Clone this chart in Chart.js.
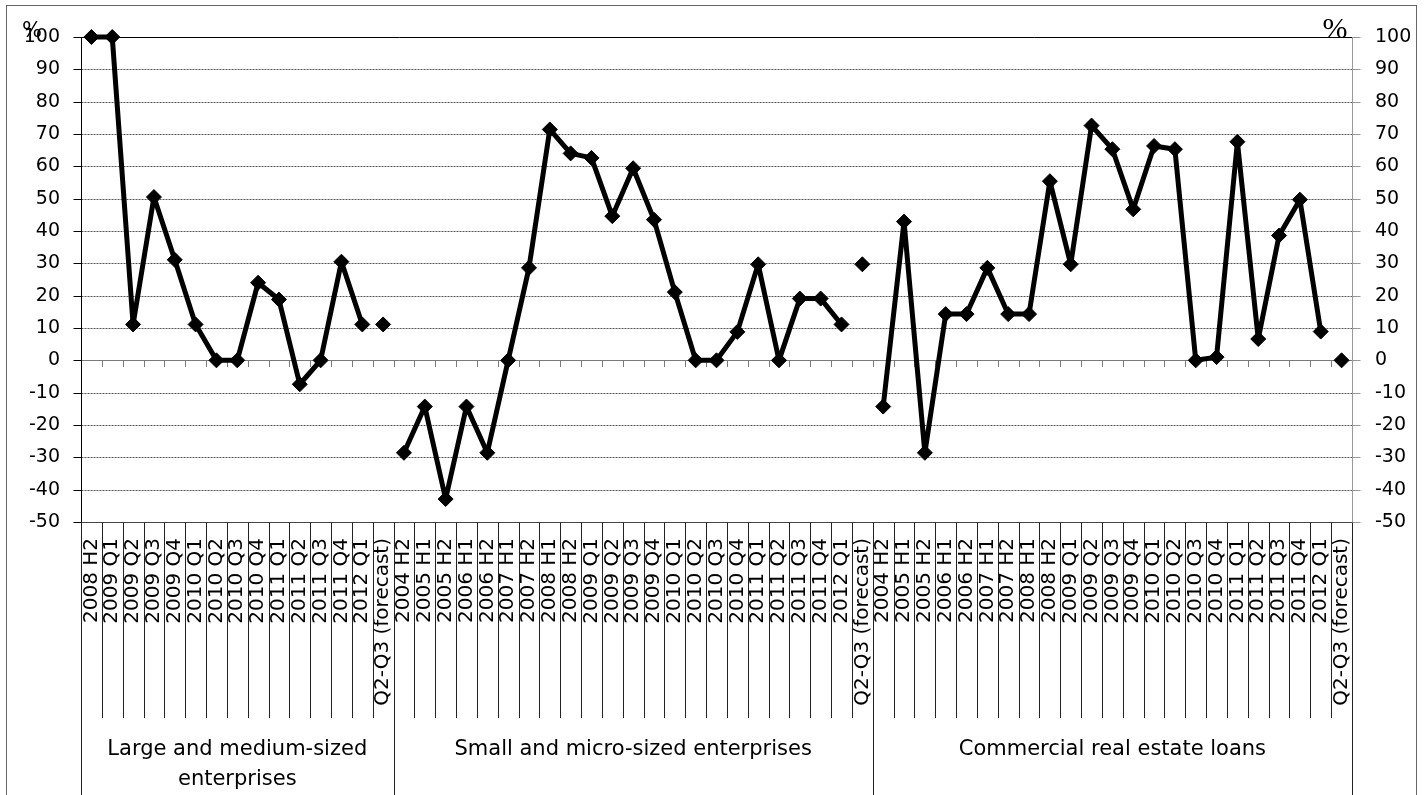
<!DOCTYPE html>
<html><head><meta charset="utf-8">
<script src="https://cdn.jsdelivr.net/npm/chart.js@4.4.1/dist/chart.umd.min.js"></script>
<style>html,body{margin:0;padding:0;background:#fff;}#wrap{position:relative;width:1427px;height:795px;}canvas{display:block;}</style>
</head><body><div id="wrap"><canvas id="c" width="1427" height="795"></canvas></div>
<script>
const groupNames = [['Large and medium-sized', 'enterprises'], ['Small and micro-sized enterprises'], ['Commercial real estate loans']];
const periodsLarge = ['2008 H2','2009 Q1','2009 Q2','2009 Q3','2009 Q4','2010 Q1','2010 Q2','2010 Q3','2010 Q4','2011 Q1','2011 Q2','2011 Q3','2011 Q4','2012 Q1','Q2-Q3 (forecast)'];
const periodsSmall = ['2004 H2','2005 H1','2005 H2','2006 H1','2006 H2','2007 H1','2007 H2','2008 H1','2008 H2','2009 Q1','2009 Q2','2009 Q3','2009 Q4','2010 Q1','2010 Q2','2010 Q3','2010 Q4','2011 Q1','2011 Q2','2011 Q3','2011 Q4','2012 Q1','Q2-Q3 (forecast)'];
const periodsCRE = ['2004 H2','2005 H1','2005 H2','2006 H1','2006 H2','2007 H1','2007 H2','2008 H1','2008 H2','2009 Q1','2009 Q2','2009 Q3','2009 Q4','2010 Q1','2010 Q2','2010 Q3','2010 Q4','2011 Q1','2011 Q2','2011 Q3','2011 Q4','2012 Q1','Q2-Q3 (forecast)'];
const valuesLarge = [100, 100, 11.1, 50.5, 31.1, 11.1, 0, 0, 24, 18.8, -7.4, 0, 30.5, 11.1];
const forecastLarge = 11.1;
const valuesSmall = [-28.6, -14.3, -42.9, -14.3, -28.6, 0, 28.6, 71.4, 64, 62.6, 44.6, 59.4, 43.5, 21.1, 0, 0, 8.8, 29.7, 0, 19.1, 19.1, 11.1];
const forecastSmall = 29.7;
const valuesCRE = [-14.3, 42.9, -28.6, 14.3, 14.3, 28.6, 14.3, 14.3, 55.4, 29.7, 72.6, 65.3, 46.7, 66.3, 65.3, 0, 1, 67.6, 6.6, 38.6, 49.7, 8.9];
const forecastCRE = 0;
const yMin = -50, yMax = 100, yStep = 10;

const labels = [...periodsLarge, ...periodsSmall, ...periodsCRE];
const actual = [...valuesLarge, null, ...valuesSmall, null, ...valuesCRE, null];
const forecast = [
  ...valuesLarge.map(() => null), forecastLarge,
  ...valuesSmall.map(() => null), forecastSmall,
  ...valuesCRE.map(() => null), forecastCRE
];
const groupSizes = [periodsLarge.length, periodsSmall.length, periodsCRE.length];

const FONT = 'DejaVu Sans';

const decor = {
  id: 'decor',
  beforeDraw(chart) {
    const ctx = chart.ctx;
    ctx.save();
    ctx.fillStyle = '#fff';
    ctx.fillRect(0, 0, chart.width, chart.height);
    ctx.strokeStyle = '#666';
    ctx.lineWidth = 1;
    ctx.strokeRect(6.5, 5.5, 1410, 800);
    ctx.restore();
  },
  beforeDatasetsDraw(chart) {
    const ctx = chart.ctx;
    const xs = chart.scales.x, ys = chart.scales.y;
    const ca = chart.chartArea;
    const L = Math.round(ca.left) + 0.5, R = Math.round(ca.right) + 0.5;
    const T = Math.round(ca.top), B = Math.round(ca.bottom) + 0.5;
    ctx.save();
    ctx.lineWidth = 1;
    for (let v = yMin; v <= yMax; v += yStep) {
      const y = Math.round(ys.getPixelForValue(v)) + 0.5;
      ctx.beginPath();
      if (v === yMax) { ctx.setLineDash([]); ctx.strokeStyle = '#000'; }
      else if (v === 0) { ctx.setLineDash([]); ctx.strokeStyle = '#7a7a7a'; }
      else if (v === yMin) { ctx.setLineDash([]); ctx.strokeStyle = '#444'; }
      else { ctx.setLineDash([2, 1]); ctx.strokeStyle = '#555'; }
      ctx.moveTo(L, y); ctx.lineTo(R, y); ctx.stroke();
      ctx.setLineDash([]);
      ctx.beginPath(); ctx.strokeStyle = '#000';
      ctx.moveTo(L - 8, y); ctx.lineTo(L, y); ctx.stroke();
      ctx.beginPath(); ctx.strokeStyle = '#999';
      ctx.moveTo(R, y); ctx.lineTo(R + 8, y); ctx.stroke();
    }
    ctx.beginPath(); ctx.strokeStyle = '#000';
    ctx.moveTo(L, T); ctx.lineTo(L, B); ctx.stroke();
    ctx.beginPath(); ctx.strokeStyle = '#999';
    ctx.moveTo(R, T); ctx.lineTo(R, B); ctx.stroke();
    const n = labels.length;
    const w = xs.getPixelForValue(1) - xs.getPixelForValue(0);
    const x0 = xs.getPixelForValue(0) - w / 2;
    const y0 = Math.round(ys.getPixelForValue(0));
    const groupBounds = [0];
    groupSizes.forEach(s => groupBounds.push(groupBounds[groupBounds.length - 1] + s));
    for (let k = 0; k <= n; k++) {
      const x = Math.round(x0 + k * w) + 0.5;
      if (k > 0 && k < n) {
        ctx.beginPath(); ctx.strokeStyle = '#7a7a7a';
        ctx.moveTo(x, y0); ctx.lineTo(x, y0 + 7); ctx.stroke();
      }
      ctx.beginPath(); ctx.strokeStyle = '#222';
      ctx.moveTo(x, B); ctx.lineTo(x, groupBounds.includes(k) ? 795 : 718); ctx.stroke();
    }
    ctx.restore();
  },
  afterDraw(chart) {
    const ctx = chart.ctx;
    const xs = chart.scales.x;
    const w = xs.getPixelForValue(1) - xs.getPixelForValue(0);
    const x0 = xs.getPixelForValue(0) - w / 2;
    ctx.save();
    ctx.fillStyle = '#000';
    ctx.textAlign = 'center';
    ctx.textBaseline = 'alphabetic';
    ctx.font = '21px "' + FONT + '"';
    let start = 0;
    groupSizes.forEach((s, g) => {
      const cx = x0 + (start + s / 2) * w;
      groupNames[g].forEach((line, i) => ctx.fillText(line, cx, 755 + i * 30));
      start += s;
    });
    ctx.textBaseline = 'middle';
    ctx.font = '21px "' + FONT + '"';
    ctx.fillText('%', 32, 32);
    ctx.font = '30px "Liberation Serif"';
    ctx.fillText('%', 1335, 30);
    ctx.restore();
  }
};

new Chart(document.getElementById('c'), {
  type: 'line',
  data: {
    labels: labels,
    datasets: [
      { label: 'actual', data: actual, borderColor: '#000', backgroundColor: '#000', borderWidth: 5,
        borderJoinStyle: 'round', borderCapStyle: 'round',
        pointStyle: 'rectRot', pointRadius: 7.5, pointBorderWidth: 1, pointBackgroundColor: '#000', pointBorderColor: '#000',
        spanGaps: false, clip: false, tension: 0, yAxisID: 'y' },
      { label: 'forecast', data: forecast, showLine: false, borderColor: '#000', backgroundColor: '#000',
        pointStyle: 'rectRot', pointRadius: 7.5, pointBorderWidth: 1, pointBackgroundColor: '#000', pointBorderColor: '#000',
        clip: false, yAxisID: 'y' }
    ]
  },
  options: {
    responsive: false, animation: false, devicePixelRatio: 1,
    layout: { padding: { top: 37, left: 0, right: 0, bottom: 0 } },
    plugins: { legend: { display: false }, tooltip: { enabled: false } },
    scales: {
      x: {
        type: 'category', offset: true,
        grid: { display: false, drawTicks: false }, border: { display: false },
        ticks: { autoSkip: false, minRotation: 90, maxRotation: 90, padding: 16, color: '#000', font: { family: FONT, size: 20 } },
        afterFit(s) { s.height = 273; }
      },
      y: {
        position: 'left', min: yMin, max: yMax,
        grid: { display: false, drawTicks: false }, border: { display: false },
        ticks: { stepSize: yStep, padding: 21, color: '#000', font: { family: FONT, size: 19 } },
        afterFit(s) { s.width = 81; }
      },
      y2: {
        position: 'right', min: yMin, max: yMax,
        grid: { display: false, drawTicks: false }, border: { display: false },
        ticks: { stepSize: yStep, padding: 23, color: '#000', font: { family: FONT, size: 19 } },
        afterFit(s) { s.width = 75; }
      }
    }
  },
  plugins: [decor]
});
</script></body></html>
